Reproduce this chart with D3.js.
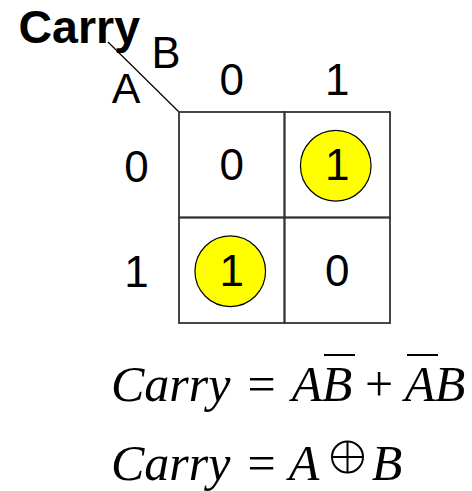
<!DOCTYPE html>
<html>
<head>
<meta charset="utf-8">
<script src="https://cdn.jsdelivr.net/npm/d3@7"></script>
<style>
  html, body { margin: 0; padding: 0; background: #fff; }
  svg { display: block; }
</style>
</head>
<body>
<svg id="chart" width="472" height="491"></svg>
<script>
// ---- data ----
const title = "Carry";
const rowVar = "A";
const colVar = "B";
const colLabels = ["0", "1"];   // B
const rowLabels = ["0", "1"];   // A
const cellValues = [            // rows: A, cols: B
  [0, 1],
  [1, 0]
];
const circledValue = 1;
// equation 1 : Carry = A B̄ + Ā B   (over: overbar)
const eq1 = [
  { t: "Carry", kind: "it" },
  { t: "=", kind: "op" },
  { t: "A", kind: "it", over: false },
  { t: "B", kind: "it", over: true },
  { t: "+", kind: "op" },
  { t: "A", kind: "it", over: true },
  { t: "B", kind: "it", over: false }
];
// equation 2 : Carry = A ⊕ B
const eq2 = [
  { t: "Carry", kind: "it" },
  { t: "=", kind: "op" },
  { t: "A", kind: "it" },
  { t: "⊕", kind: "xor" },
  { t: "B", kind: "it" }
];

// ---- layout ----
const svg = d3.select("#chart");
const gridX0 = 179, gridX1 = 390, gridY0 = 112, gridY1 = 323;
const x = d3.scaleBand().domain(colLabels).range([gridX0, gridX1]);
const y = d3.scaleBand().domain(rowLabels).range([gridY0, gridY1]);
const sans = "'Liberation Sans', Arial, sans-serif";
const serif = "'Liberation Serif', 'Times New Roman', serif";

// title
svg.append("text").attr("x", 18.5).attr("y", 43)
  .attr("font-family", sans).attr("font-weight", "bold").attr("font-size", 46.5)
  .attr("fill", "#000").text(title);

// diagonal
svg.append("line").attr("x1", gridX0 - 71).attr("y1", gridY0 - 70)
  .attr("x2", gridX0).attr("y2", gridY0)
  .attr("stroke", "#000").attr("stroke-width", 1.2);

// variable labels
svg.append("text").attr("x", 151.5).attr("y", 68)
  .attr("font-family", sans).attr("font-size", 43.5).text(colVar);
svg.append("text").attr("x", 126).attr("y", 103).attr("text-anchor", "middle")
  .attr("font-family", sans).attr("font-size", 43).text(rowVar);

// column labels
svg.selectAll("text.col").data(colLabels).join("text").attr("class", "col")
  .attr("x", d => x(d) + x.bandwidth() / 2).attr("y", 95)
  .attr("text-anchor", "middle").attr("font-family", sans).attr("font-size", 44)
  .text(d => d);
// row labels
svg.selectAll("text.row").data(rowLabels).join("text").attr("class", "row")
  .attr("x", 136.5).attr("y", d => y(d) + y.bandwidth() / 2 + 17)
  .attr("text-anchor", "middle").attr("font-family", sans).attr("font-size", 44)
  .text(d => d);

// cells
const cells = [];
rowLabels.forEach((r, i) => colLabels.forEach((c, j) => cells.push({ r, c, v: cellValues[i][j] })));

svg.selectAll("rect.cell").data(cells).join("rect").attr("class", "cell")
  .attr("x", d => x(d.c)).attr("y", d => y(d.r))
  .attr("width", x.bandwidth()).attr("height", y.bandwidth())
  .attr("fill", "none").attr("stroke", "#333").attr("stroke-width", 1.8);

svg.selectAll("circle.mark").data(cells.filter(d => d.v === circledValue)).join("circle")
  .attr("class", "mark")
  .attr("cx", d => x(d.c) + x.bandwidth() / 2 - 1.5)
  .attr("cy", d => y(d.r) + y.bandwidth() / 2 + 1)
  .attr("r", 35.3)
  .attr("fill", "#ffff00").attr("stroke", "#000").attr("stroke-width", 1.2);

svg.selectAll("text.val").data(cells).join("text").attr("class", "val")
  .attr("x", d => x(d.c) + x.bandwidth() / 2)
  .attr("y", d => y(d.r) + y.bandwidth() / 2 + 15.5)
  .attr("text-anchor", "middle").attr("font-family", sans).attr("font-size", 44)
  .text(d => d.v);

// equations
const eqFont = 50;
function drawEq(parts, centers, baseline) {
  parts.forEach((p, i) => {
    const cx = centers[i];
    if (p.kind === "xor") {
      const cy = baseline - 23, r = 15.5;
      svg.append("circle").attr("cx", cx).attr("cy", cy).attr("r", r)
        .attr("fill", "none").attr("stroke", "#000").attr("stroke-width", 2);
      svg.append("line").attr("x1", cx - r).attr("x2", cx + r).attr("y1", cy).attr("y2", cy)
        .attr("stroke", "#000").attr("stroke-width", 2);
      svg.append("line").attr("x1", cx).attr("x2", cx).attr("y1", cy - r).attr("y2", cy + r)
        .attr("stroke", "#000").attr("stroke-width", 2);
      return;
    }
    const t = svg.append("text").attr("y", baseline)
      .attr("font-family", serif).attr("font-size", eqFont).attr("fill", "#000").text(p.t);
    if (i === 0) {
      t.attr("x", cx).attr("font-style", "italic");
    } else {
      t.attr("x", cx).attr("text-anchor", "middle")
        .attr("font-style", p.kind === "it" ? "italic" : "normal");
    }
    if (p.over) {
      svg.append("line").attr("x1", cx - 13).attr("x2", cx + 18)
        .attr("y1", baseline - 46).attr("y2", baseline - 46)
        .attr("stroke", "#000").attr("stroke-width", 2);
    }
  });
}
drawEq(eq1, [111, 261.5, 307, 337, 379, 420, 450], 401);
drawEq(eq2, [111, 261.5, 304, 347.5, 387], 480);
</script>
</body>
</html>
